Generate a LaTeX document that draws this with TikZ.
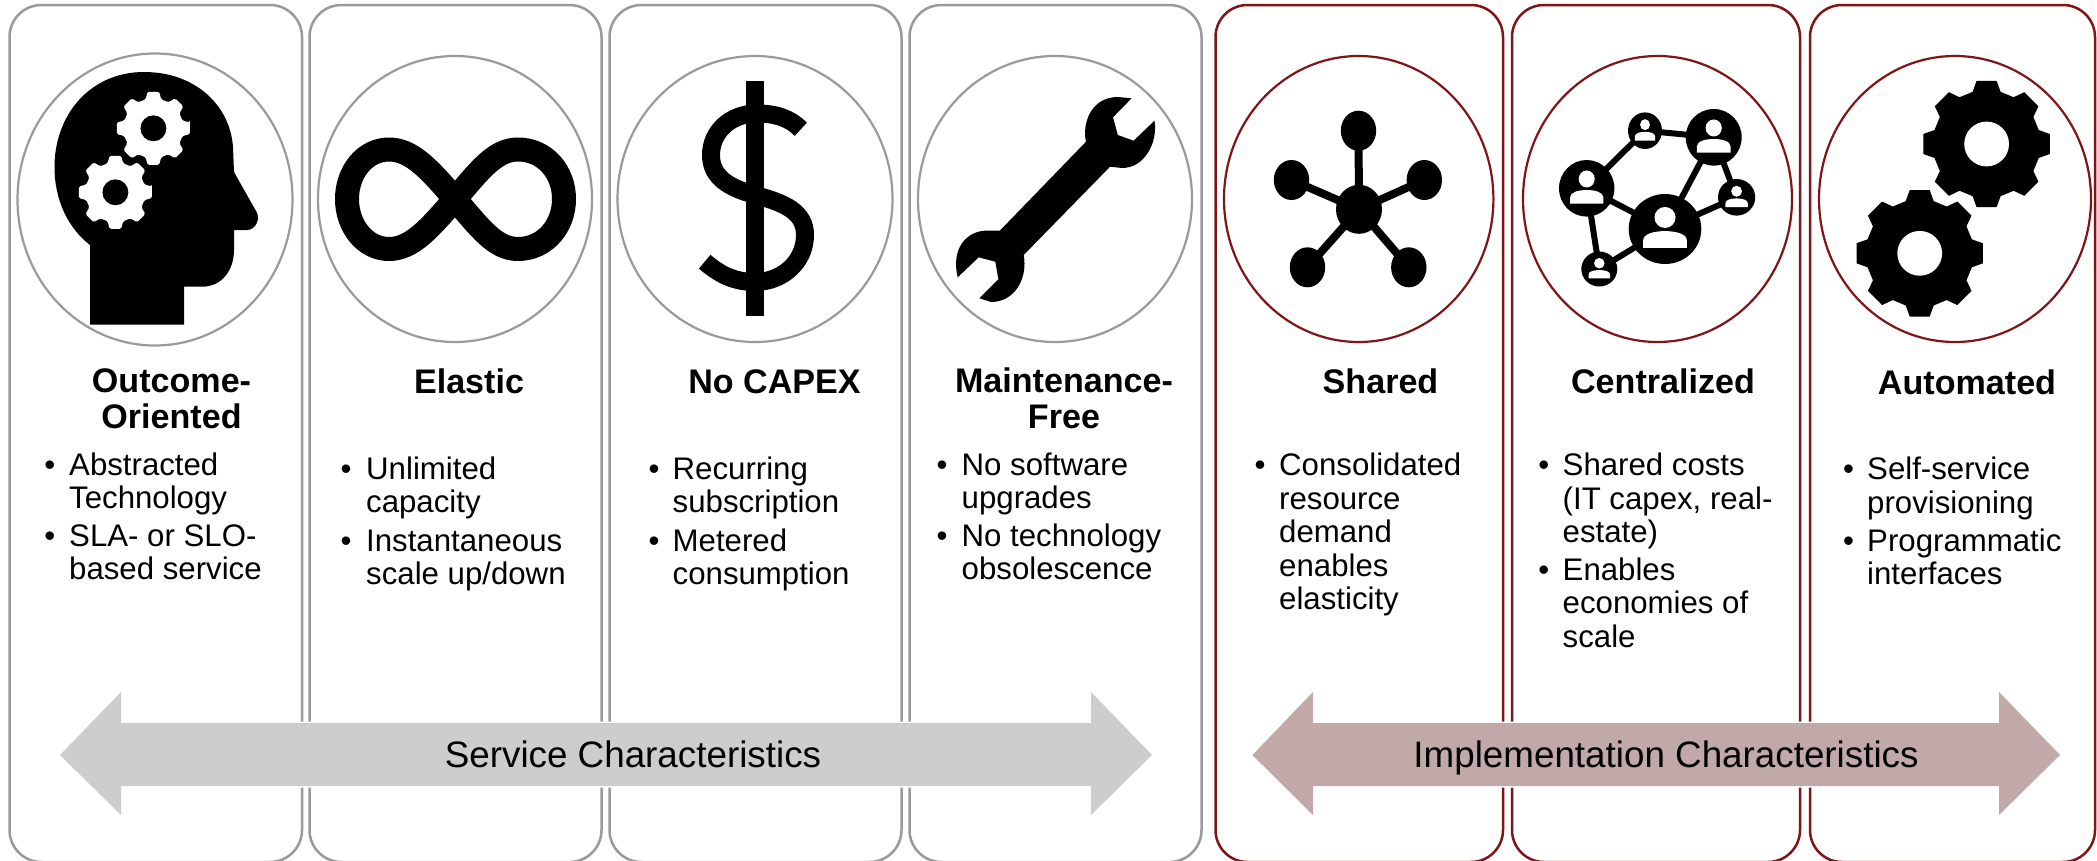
\documentclass[tikz,border=0pt]{standalone}
\usepackage{fontspec}
\setmainfont{Liberation Sans}
\definecolor{cardgray}{HTML}{9A9A9A}
\definecolor{cardred}{HTML}{7F1517}
\definecolor{arrowgray}{HTML}{CDCDCD}
\definecolor{arrowred}{HTML}{C1A9A9}
\newcommand{\drawgear}[6]{% cx cy outer root hole colour
  \fill[#6] ([shift={(#1,#2)}]-9:#3)
    \foreach \a in {0,45,...,315}{
      -- ([shift={(#1,#2)}]{\a-9}:#3) -- ([shift={(#1,#2)}]{\a+9}:#3)
      -- ([shift={(#1,#2)}]{\a+15}:#4) -- ([shift={(#1,#2)}]{\a+30}:#4)
    } -- cycle;
  \fill[#5] (#1,#2) circle (0.35*#3);
}
\newcommand{\person}[4]{% cx cy rx ry
  \fill[black] (#1,#2) ellipse [x radius=#3, y radius=#4];
  \fill[white] (#1,{#2-0.33*#4}) ellipse [x radius=0.29*#3, y radius=0.3*#4];
  \fill[white] ({#1-0.6*#3},{#2+0.54*#4}) -- ({#1-0.6*#3},{#2+0.32*#4})
    .. controls ({#1-0.6*#3},{#2+0.14*#4}) and ({#1-0.3*#3},{#2+0.06*#4}) .. (#1,{#2+0.06*#4})
    .. controls ({#1+0.3*#3},{#2+0.06*#4}) and ({#1+0.6*#3},{#2+0.14*#4}) .. ({#1+0.6*#3},{#2+0.32*#4})
    -- ({#1+0.6*#3},{#2+0.54*#4}) -- cycle;
}
\newcommand{\bandshape}[7]{% colour, tip-left, base-left, base-right, tip-right
  \def\bandpath{(#2,755) -- (#3,692) -- (#3,723) -- (#4,723) -- (#4,692) -- (#5,755) -- (#4,815) -- (#4,786) -- (#3,786) -- (#3,815) -- cycle}
  \draw[white, line width=3pt, line join=miter] \bandpath;
  \fill[#1] \bandpath;
}
\newcommand{\lns}[2]{\begin{tabular}[t]{@{}#1@{}}#2\end{tabular}}
\tikzset{
  cardg/.style={draw=cardgray, line width=2.5pt, rounded corners=32pt, fill=white},
  cardr/.style={draw=cardred, line width=2.5pt, rounded corners=32pt, fill=white},
  ringg/.style={draw=cardgray, line width=2.2pt, fill=white},
  ringr/.style={draw=cardred, line width=2.2pt, fill=white},
  heading/.style={anchor=base, inner sep=0pt, font=\fontsize{34.1}{35.5}\selectfont\bfseries},
  itemtext/.style={anchor=base west, inner sep=0pt, font=\fontsize{31.2}{33.5}\selectfont},
  dot/.style={anchor=base, inner sep=0pt, font=\fontsize{31.2}{33.5}\selectfont},
  band/.style={anchor=base, inner sep=0pt, font=\fontsize{36.8}{40}\selectfont},
}
\begin{document}
\begin{tikzpicture}[x=1pt,y=-1pt]
\clip (0,0) rectangle (2097,860);
\fill[white] (0,0) rectangle (2097,860);
% cards
\draw[cardg] (9.5,5) rectangle (302,862);
\draw[cardg] (309.5,5) rectangle (601.5,862);
\draw[cardg] (609.5,5) rectangle (901.5,862);
\draw[cardg] (909.5,5) rectangle (1201.5,862);
\draw[cardr] (1215.5,5) rectangle (1503,862);
\draw[cardr] (1512,5) rectangle (1800,862);
\draw[cardr] (1810,5) rectangle (2095,862);
% rings
\draw[ringg] (155,199.5) ellipse [x radius=137.5, y radius=146];
\draw[ringg] (455,199) ellipse [x radius=137, y radius=143];
\draw[ringg] (755,199) ellipse [x radius=137.5, y radius=143];
\draw[ringg] (1055,199) ellipse [x radius=137, y radius=143];
\draw[ringr] (1358.7,199) ellipse [x radius=134.7, y radius=143];
\draw[ringr] (1657.5,199) ellipse [x radius=134.5, y radius=143];
\draw[ringr] (1955,199) ellipse [x radius=136, y radius=143];
% head
\fill[black] (90,324.5) -- (184,324.5) -- (184,286.7) -- (202,286.7)
  .. controls (222,286.7) and (234,270) .. (234,250) -- (234,230) -- (247,230)
  .. controls (256,230) and (261,218) .. (256,211) -- (234,172) -- (233,147)
  .. controls (230,105) and (195,72) .. (144,72)
  .. controls (90,72) and (54.5,115) .. (54.5,167)
  .. controls (54.5,200) and (68,228) .. (90,245) -- cycle;
\drawgear{153.4}{128.3}{37}{30}{black}{white, rounded corners=1.5pt}
\drawgear{115.4}{192.3}{37}{30}{black}{white, rounded corners=1.5pt}
% infinity
\draw[black, line width=24pt, line join=round]
  (455,199) .. controls (480,170) and (495,149.5) .. (518,149.5)
  .. controls (545,149.5) and (564,172) .. (564,199)
  .. controls (564,226) and (545,249) .. (518,249)
  .. controls (495,249) and (480,228) .. (455,199)
  .. controls (430,170) and (412,149.5) .. (389,149.5)
  .. controls (365,149.5) and (347,172) .. (347,199)
  .. controls (347,226) and (365,249) .. (389,249)
  .. controls (412,249) and (430,228) .. (455,199) -- cycle;
% dollar
\fill[black] (745.8,80.7) rectangle (763.6,315.7);
\draw[black, line width=18pt]
  (800.8,129.3) .. controls (790,118) and (775,113.5) .. (757,113.5)
  .. controls (730,113.5) and (711,132) .. (711,155)
  .. controls (711,178) and (730,188) .. (755,195)
  .. controls (785,203) and (805,212) .. (805,235)
  .. controls (805,262) and (782,282) .. (755,282)
  .. controls (735,282) and (720,275) .. (704.7,261.7);
% wrench
\fill[black] (1086,141.7)
  .. controls (1082,125) and (1090,97) .. (1118,97) -- (1131.6,98.3)
  -- (1113,117.3) -- (1117.8,135) -- (1133.6,140.7) -- (1154.5,120.7)
  .. controls (1158,142) and (1145,168) .. (1122,168) -- (1110,166.7)
  -- (1023.7,255)
  .. controls (1028,278) and (1015,302) .. (991,302) -- (979.4,298.3)
  -- (998.4,279.3) -- (995.3,261.7) -- (978.7,257.3) -- (957.7,277.3)
  .. controls (951,250) and (965,231) .. (987,230.5) -- (1000,230.5) -- cycle;
% shared hub
\foreach \x/\y in {1358.5/130.7,1291.5/180,1424.3/180,1307.5/267.3,1408.8/267.3}{
  \draw[black, line width=8pt] (1359,209.3) -- (\x,\y);
  \fill[black] (\x,\y) ellipse [x radius=17.7, y radius=20];
}
\fill[black] (1359,209.3) ellipse [x radius=23, y radius=24.5];
% people network
\draw[black, line width=6pt]
  (1586.7,188.3) -- (1645,130.7) -- (1713.7,137.3) -- (1665,229) -- (1586.7,188.3) -- (1599.3,269) -- (1665,229) -- (1736.6,197.3) -- (1713.7,137.3);
\person{1586.7}{188.3}{27.7}{28.3}
\person{1645}{130.7}{17}{18.3}
\person{1713.7}{137.3}{28}{28.3}
\person{1736.6}{197.3}{18.6}{18.3}
\person{1665}{229}{36.3}{35}
\person{1599.3}{269}{18}{17.5}
% gears
\drawgear{1986.6}{144}{64}{54}{white}{black}
\drawgear{1919.7}{253.3}{64}{54}{white}{black}
% band arrows
\bandshape{arrowgray}{60}{121}{1091}{1152}{}{}
\bandshape{arrowred}{1252.4}{1313}{1999}{2060}{}{}
\node[band] (svc) at (633,767) {Service Characteristics};
\node[band] (impl) at (1666,767) {Implementation Characteristics};
% headings
\node[heading] (h1) at (171.5,392.5) {\lns{c}{Outcome-\\Oriented}};
\node[heading] (h2) at (469,393) {Elastic};
\node[heading] (h3) at (774.5,393) {No CAPEX};
\node[heading] (h4) at (1064,392.5) {\lns{c}{Maintenance-\\Free}};
\node[heading] (h5) at (1380.5,393) {Shared};
\node[heading] (h6) at (1663,393) {Centralized};
\node[heading] (h7) at (1967,394) {Automated};
% card 1
\node[dot] (b1a) at (49.8,475) {•};
\node[itemtext] (t1a) at (69,475) {\lns{l}{Abstracted\\Technology}};
\node[dot] (b1b) at (49.8,546) {•};
\node[itemtext] (t1b) at (69,546) {\lns{l}{SLA- or SLO-\\based service}};
% card 2
\node[dot] (b2a) at (346,479) {•};
\node[itemtext] (t2a) at (366,479) {\lns{l}{Unlimited\\capacity}};
\node[dot] (b2b) at (346,551) {•};
\node[itemtext] (t2b) at (366,551) {\lns{l}{Instantaneous\\scale up/down}};
% card 3
\node[dot] (b3a) at (654,479) {•};
\node[itemtext] (t3a) at (672.5,479) {\lns{l}{Recurring\\subscription}};
\node[dot] (b3b) at (654,551) {•};
\node[itemtext] (t3b) at (672.5,551) {\lns{l}{Metered\\consumption}};
% card 4
\node[dot] (b4a) at (942,475) {•};
\node[itemtext] (t4a) at (961.5,475) {\lns{l}{No software\\upgrades}};
\node[dot] (b4b) at (942,546) {•};
\node[itemtext] (t4b) at (961.5,546) {\lns{l}{No technology\\obsolescence}};
% card 5
\node[dot] (b5a) at (1260,475.7) {•};
\node[itemtext] (t5a) at (1279,475.7) {\lns{l}{Consolidated\\resource\\demand\\enables\\elasticity}};
% card 6
\node[dot] (b6a) at (1543.7,475.7) {•};
\node[itemtext] (t6a) at (1562.5,475.7) {\lns{l}{Shared costs\\(IT capex, real-\\estate)}};
\node[dot] (b6b) at (1543.7,580) {•};
\node[itemtext] (t6b) at (1562.5,580) {\lns{l}{Enables\\economies of\\scale}};
% card 7
\node[dot] (b7a) at (1848.6,479.5) {•};
\node[itemtext] (t7a) at (1867,479.5) {\lns{l}{Self-service\\provisioning}};
\node[dot] (b7b) at (1848.6,551) {•};
\node[itemtext] (t7b) at (1867,551) {\lns{l}{Programmatic\\interfaces}};
\end{tikzpicture}
\end{document}
